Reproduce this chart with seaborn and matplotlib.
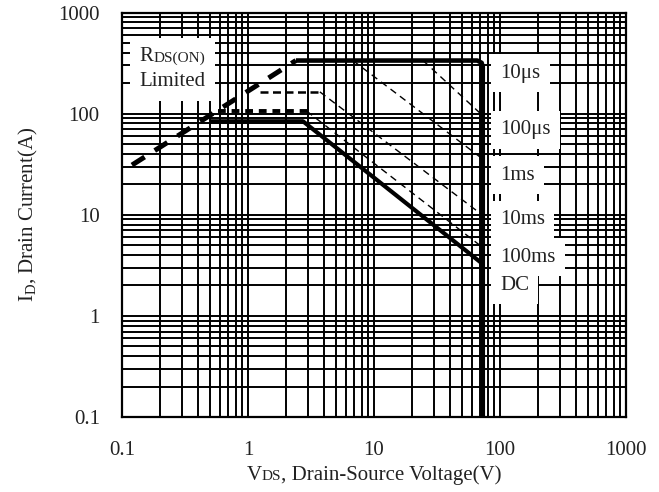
import numpy as np
import pandas as pd
import matplotlib
matplotlib.use("Agg")
import matplotlib.pyplot as plt
import seaborn as sns
from matplotlib.ticker import LogLocator, NullFormatter, FixedLocator, FixedFormatter
from matplotlib.offsetbox import TextArea, HPacker, VPacker, AnnotationBbox

# ---- data -------------------------------------------------------------
# R_DS(on) limit
rds_x = [0.12, 2.4]
rds_y = [31, 335]
# 10 us envelope: pulsed current limit, then the V_DS limit
env_x = [2.4, 66, 71.5, 73, 73]
env_y = [335, 335, 318, 290, 0.1]
# 100 us
p100us_x = [24.5, 72]
p100us_y = [335, 97]
# 1 ms
p1ms_x = [6.8, 72]
p1ms_y = [335, 36]
# 10 ms
p10ms_flat_x = [1.24, 3.72]
p10ms_flat_y = [164, 164]
p10ms_x = [3.72, 72]
p10ms_y = [164, 10]
# 100 ms
p100ms_flat_x = [0.58, 2.92]
p100ms_flat_y = [106, 106]
p100ms_x = [2.92, 72]
p100ms_y = [106, 4.8]
# DC
dc_x = [0.5, 2.73, 72]
dc_y = [84, 84, 3.3]

x_ticks = [0.1, 1, 10, 100, 1000]
x_tick_labels = ["0.1", "1", "10", "100", "1000"]
y_ticks = [0.1, 1, 10, 100, 1000]
y_tick_labels = ["0.1", "1", "10", "100", "1000"]

curve_labels = ["10\u03bcs", "100\u03bcs", "1ms", "10ms", "100ms", "DC"]
curve_label_y = [252, 69, 24.6, 9.0, 3.8, 2.0]

# ---- style -------------------------------------------------------------
sns.set_theme(style="white")
SERIF = ["Liberation Serif", "DejaVu Serif"]
plt.rcParams["font.family"] = SERIF
plt.rcParams["mathtext.fontset"] = "custom"
plt.rcParams["mathtext.rm"] = "Liberation Serif"
plt.rcParams["mathtext.it"] = "Liberation Serif:italic"
plt.rcParams["mathtext.bf"] = "Liberation Serif:bold"

FS = 15
INK = "#222222"
fig, ax = plt.subplots(figsize=(6.59, 4.92), dpi=100)
fig.subplots_adjust(left=122/659, right=626/659, bottom=(492-417)/492, top=(492-12.5)/492)

def draw(xs, ys, lw, ls, z=2.5):
    df = pd.DataFrame({"x": xs, "y": ys})
    sns.lineplot(data=df, x="x", y="y", sort=False, estimator=None, errorbar=None,
                 color="black", lw=lw, linestyle=ls, ax=ax, zorder=z,
                 solid_joinstyle="round", solid_capstyle="butt", dash_capstyle="butt")

draw(rds_x, rds_y, 3.6, (0, (3.0, 2.4)))
draw(env_x, env_y, 3.3, "-")
draw(p100us_x, p100us_y, 1.0, (0, (5, 3.5)))
draw(p1ms_x, p1ms_y, 1.0, (0, (5, 3.5)))
draw(p10ms_flat_x, p10ms_flat_y, 1.8, (0, (3.2, 1.8)))
draw(p10ms_x, p10ms_y, 1.0, (0, (5, 3.5)))
draw(p100ms_flat_x, p100ms_flat_y, 2.8, (0, (2.0, 1.5)))
draw(p100ms_x, p100ms_y, 1.0, (0, (5, 3.5)))
draw(dc_x, dc_y, 3.0, "-")

ax.set_xscale("log")
ax.set_yscale("log")
ax.set_xlim(0.1, 1000)
ax.set_ylim(0.1, 1000)

# full 1..9 grid in every decade
ax.xaxis.set_major_locator(FixedLocator(x_ticks))
ax.xaxis.set_major_formatter(FixedFormatter(x_tick_labels))
ax.yaxis.set_major_locator(FixedLocator(y_ticks))
ax.yaxis.set_major_formatter(FixedFormatter(y_tick_labels))
ax.xaxis.set_minor_locator(LogLocator(base=10, subs=np.arange(2, 10), numticks=20))
ax.yaxis.set_minor_locator(LogLocator(base=10, subs=np.arange(2, 10), numticks=20))
ax.xaxis.set_minor_formatter(NullFormatter())
ax.yaxis.set_minor_formatter(NullFormatter())
ax.grid(which="both", color="black", lw=1.4)
ax.tick_params(which="both", length=0)
ax.tick_params(axis="x", pad=17, labelsize=FS, colors=INK)
ax.tick_params(axis="y", pad=16, labelsize=FS, colors=INK)
for s in ax.spines.values():
    s.set_color("black")
    s.set_linewidth(1.6)

ax.set_xlabel("")
ax.set_ylabel(r"I$_\mathregular{D}$, Drain Current(A)", fontsize=FS, color=INK, labelpad=13)

def rich(parts):
    return HPacker(children=[TextArea(t, textprops=dict(fontsize=s, family=SERIF, color=INK))
                             for t, s in parts], align="baseline", pad=0, sep=0)

xl = AnnotationBbox(rich([("V", FS), ("DS", 11), (", Drain-Source Voltage(V)", FS)]),
                    xy=(0.5, -0.143), xycoords="axes fraction", box_alignment=(0.5, 0.5),
                    frameon=False, annotation_clip=False)
ax.add_artist(xl)

rds_box = VPacker(children=[rich([("R", FS), ("DS(ON)", 11)]),
                            TextArea("Limited", textprops=dict(fontsize=FS, family=SERIF, color=INK))],
                  align="left", pad=7, sep=4)
lb = AnnotationBbox(rds_box, xy=(0.1, 0.86), xycoords="axes fraction", box_alignment=(0.5, 0.5),
                    frameon=True, pad=0, bboxprops=dict(facecolor="white", edgecolor="none"),
                    zorder=5)
ax.add_artist(lb)

for lab, yv in zip(curve_labels, curve_label_y):
    ax.text(100, yv, lab, fontsize=FS, ha="left", va="center", color=INK, zorder=5,
            bbox=dict(facecolor="white", edgecolor="none", boxstyle="square,pad=0.45"))

fig.savefig("out.png", dpi=100)
